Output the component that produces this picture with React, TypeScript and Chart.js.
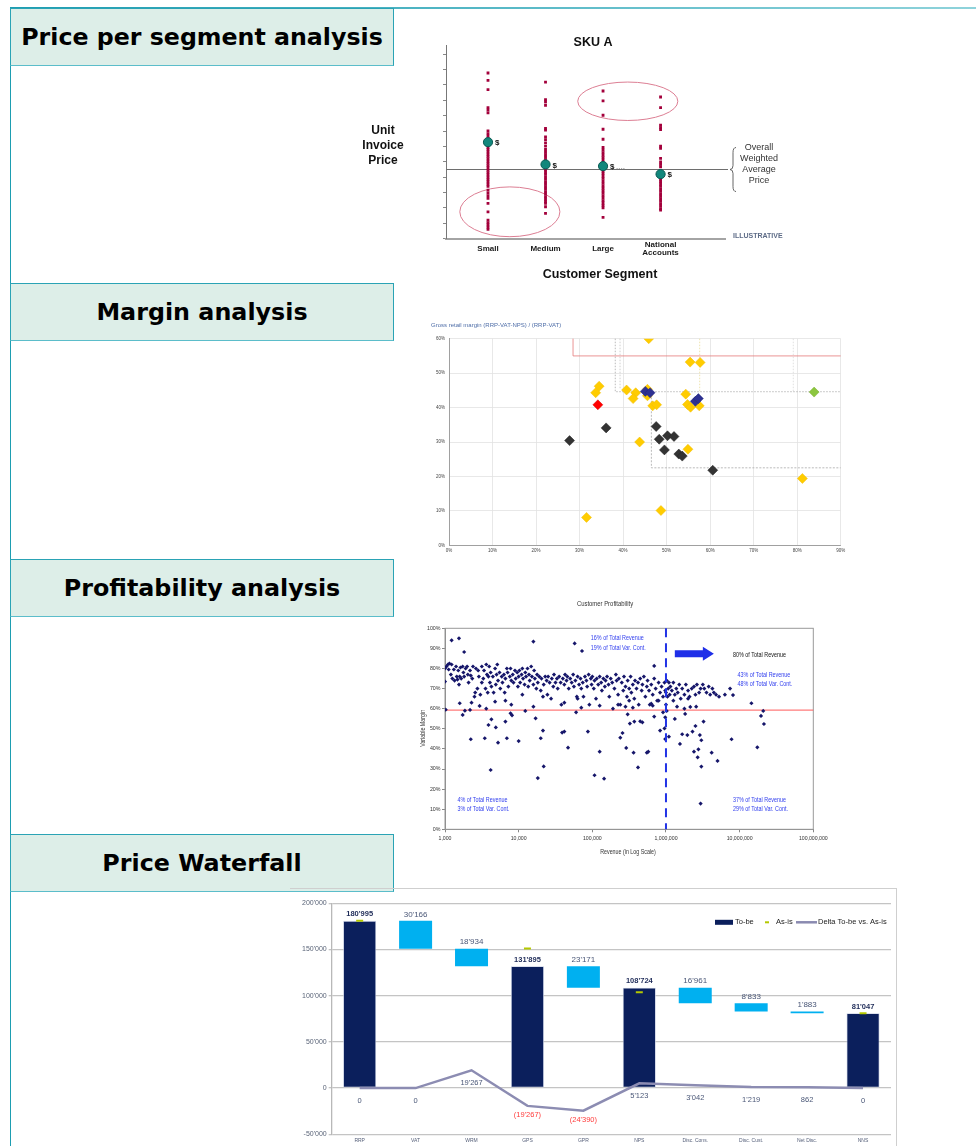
import React, { useEffect, useRef } from "react";
import { Chart, registerables } from "chart.js";

Chart.register(...registerables);

const ARIAL = '"Liberation Sans", Arial, sans-serif';
const HEADING_FONT = '"DejaVu Sans", Verdana, sans-serif';

// ---------------- Headings ----------------
const HEADINGS = ["Price per segment analysis", "Margin analysis", "Profitability analysis", "Price Waterfall"];
const HEADING_TOPS = [8, 283, 559, 834];

// ---------------- Chart 1: SKU A ----------------
const SKU_TITLE = "SKU A";
const SEGMENT_LABELS: (string | string[])[] = ["Small", "Medium", "Large", ["National", "Accounts"]];
const SMALL_PRICES = [10.78, 10.3, 9.7, 8.53, 8.36, 8.18, 7.01, 6.84, 6.67, 6.49, 6.1, 5.95, 5.8, 5.65, 5.5, 5.35, 5.2, 5.05, 4.9, 4.75, 4.6, 4.45, 4.3, 4.15, 4.0, 3.85, 3.7, 3.55, 3.4, 3.16, 2.98, 2.8, 2.62, 2.3, 1.75, 1.21, 1.05, 0.9, 0.75, 0.61];
const MEDIUM_PRICES = [10.19, 9.05, 8.9, 8.68, 7.17, 7.06, 6.62, 6.45, 6.23, 6.02, 5.8, 5.62, 5.46, 5.3, 5.14, 4.98, 4.66, 4.5, 4.34, 4.18, 4.02, 3.86, 3.7, 3.54, 3.38, 3.22, 3.06, 2.9, 2.74, 2.58, 2.42, 2.3, 2.08, 1.65];
const LARGE_PRICES = [9.61, 8.96, 8.03, 7.12, 6.47, 5.93, 5.76, 5.6, 5.43, 5.27, 5.11, 4.95, 4.56, 4.4, 4.24, 4.08, 3.92, 3.76, 3.6, 3.44, 3.28, 3.12, 2.96, 2.8, 2.64, 2.48, 2.32, 2.16, 2.0, 1.39];
const NATIONAL_PRICES = [9.22, 8.53, 7.38, 7.23, 7.1, 6.02, 5.87, 5.22, 5.0, 4.84, 4.68, 4.36, 4.04, 3.88, 3.72, 3.56, 3.4, 3.24, 3.08, 2.92, 2.76, 2.6, 2.44, 2.28, 2.12, 1.96, 1.86];
const SEGMENT_AVERAGES = [6.28, 4.83, 4.72, 4.2];
const OVERALL_AVERAGE = 4.5;
const PRICE_TICKS = [0, 1, 2, 3, 4, 5, 6, 7, 8, 9, 10, 11, 12];
// highlight ellipses: [centre segment, centre price, radius segment, radius price]
const HIGHLIGHTS = [
  [1.38, 1.75, 0.87, 1.62],
  [3.43, 8.94, 0.87, 1.25],
];
const AVG_NOTE = ["Overall", "Weighted", "Average", "Price"];
const Y_NOTE = ["Unit", "Invoice", "Price"];
const X_NOTE = "Customer Segment";
const ILLUSTRATIVE = "ILLUSTRATIVE";

// ---------------- Chart 2: Margin analysis ----------------
const MARGIN_TITLE = "Gross retail margin (RRP-VAT-NPS) / (RRP-VAT)";
const MARGIN_X_TICKS = [0, 10, 20, 30, 40, 50, 60, 70, 80, 90];
const MARGIN_Y_TICKS = [0, 10, 20, 30, 40, 50, 60];
const YELLOW_POINTS = [[45.9, 60.0], [55.4, 53.2], [57.7, 53.1], [34.5, 46.2], [33.7, 44.3], [40.8, 45.1], [42.9, 44.3], [42.3, 42.6], [45.6, 45.3], [45.6, 43.4], [54.4, 43.9], [46.8, 40.5], [47.7, 40.8], [54.8, 40.9], [55.5, 40.1], [57.5, 40.5], [43.8, 30.0], [54.9, 27.9], [48.7, 10.1], [31.6, 8.1], [81.2, 19.4]];
const DARK_POINTS = [[27.7, 30.4], [36.1, 34.1], [47.6, 34.5], [48.3, 30.8], [50.2, 31.8], [51.7, 31.6], [49.5, 27.7], [52.8, 26.5], [53.6, 25.9], [60.6, 21.8]];
const NAVY_POINTS = [[45.1, 44.7], [46.2, 44.3], [56.6, 41.8], [57.3, 42.6]];
const RED_POINTS = [[34.2, 40.8]];
const GREEN_POINTS = [[83.9, 44.5]];
const MARGIN_GUIDES = [
  { xs: [28.5, 28.5, 90], ys: [60, 55, 55], color: "#e47a7a", dash: [] as number[] },
  { xs: [38.2, 38.2, 90], ys: [60, 44.6, 44.6], color: "#a8a8a8", dash: [1.5, 1.5] },
  { xs: [39.3, 39.3], ys: [60, 45.5], color: "#c4c4c4", dash: [1.5, 1.5] },
  { xs: [57.6, 57.6], ys: [60, 44.6], color: "#e8dc9a", dash: [1.5, 1.5] },
  { xs: [79.1, 79.1], ys: [60, 44.6], color: "#d8d8d8", dash: [1.5, 1.5] },
  { xs: [46.5, 46.5, 90], ys: [44, 22.5, 22.5], color: "#a8a8a8", dash: [2, 1.5] },
];

// ---------------- Chart 3: Customer profitability ----------------
const PROFIT_TITLE = "Customer Profitability";
const PROFIT_X_TITLE = "Revenue (in Log Scale)";
const PROFIT_Y_TITLE = "Variable Margin";
const REVENUE_TICKS = [1000, 10000, 100000, 1000000, 10000000, 100000000];
const MARGIN_PCT_TICKS = [0, 10, 20, 30, 40, 50, 60, 70, 80, 90, 100];
const MARGIN_THRESHOLD = 59.3;
const REVENUE_THRESHOLD = 1000000;
// [log10(revenue), variable margin %]
const PROFIT_POINTS = [
  [3.09, 94.0], [3.19, 95.0], [3.26, 88.2], [4.2, 93.4], [4.76, 92.5], [4.86, 88.7], [5.84, 81.3],
  [3.0, 80], [3.0, 73.5], [3.02, 81], [3.04, 82], [3.05, 79.5], [3.06, 82.5], [3.08, 77], [3.09, 82], [3.1, 75], [3.12, 79.5], [3.13, 74], [3.15, 81], [3.16, 76], [3.17, 74.5], [3.18, 79], [3.19, 72], [3.2, 76], [3.21, 80.5], [3.22, 75], [3.24, 81], [3.25, 78], [3.26, 76], [3.28, 80], [3.3, 81], [3.31, 77], [3.32, 73], [3.34, 79], [3.35, 76.5], [3.37, 75], [3.38, 81], [3.4, 66], [3.41, 68], [3.42, 80], [3.44, 70], [3.45, 79], [3.46, 76], [3.48, 67], [3.5, 81], [3.5, 73],
  [3.52, 75], [3.53, 79], [3.55, 70], [3.56, 82], [3.57, 77], [3.58, 68], [3.59, 76], [3.6, 81], [3.61, 73], [3.62, 78], [3.63, 71], [3.65, 76], [3.66, 68], [3.68, 80], [3.69, 72], [3.7, 77], [3.71, 82], [3.72, 74], [3.74, 78], [3.75, 70], [3.77, 76], [3.78, 73], [3.8, 77], [3.81, 68], [3.82, 75], [3.84, 80], [3.85, 78], [3.86, 71], [3.88, 76], [3.89, 80], [3.9, 74], [3.92, 77], [3.93, 73], [3.95, 79], [3.96, 75], [3.98, 78], [3.99, 71],
  [4.0, 76], [4.01, 79], [4.02, 73], [4.04, 77], [4.05, 80], [4.06, 75], [4.08, 72], [4.09, 78], [4.1, 76], [4.12, 80], [4.13, 71], [4.14, 77], [4.15, 74], [4.17, 81], [4.18, 76], [4.2, 72], [4.21, 79], [4.22, 75], [4.24, 70], [4.25, 77], [4.26, 73], [4.28, 76], [4.3, 69], [4.31, 75], [4.33, 66], [4.34, 72], [4.36, 76], [4.38, 74], [4.39, 67], [4.4, 76], [4.42, 73], [4.44, 65], [4.45, 75], [4.47, 71], [4.48, 77], [4.5, 73],
  [4.52, 75], [4.53, 70], [4.55, 76], [4.57, 73], [4.58, 62], [4.6, 75], [4.62, 72], [4.63, 77], [4.65, 74], [4.66, 76], [4.68, 70], [4.7, 75], [4.72, 73], [4.74, 77], [4.75, 71], [4.77, 74], [4.79, 66], [4.8, 76], [4.82, 72], [4.84, 75], [4.85, 70], [4.87, 73], [4.88, 66], [4.9, 76], [4.92, 74], [4.93, 71], [4.95, 77], [4.96, 62], [4.98, 75], [4.99, 72],
  [5.0, 76], [5.02, 70], [5.03, 74], [5.05, 65], [5.06, 75], [5.08, 72], [5.1, 76], [5.12, 73], [5.13, 69], [5.15, 75], [5.17, 71], [5.18, 74], [5.2, 76], [5.22, 72], [5.23, 66], [5.25, 75], [5.27, 73], [5.28, 60], [5.3, 70], [5.32, 77], [5.33, 74], [5.35, 67], [5.36, 75], [5.38, 62], [5.4, 73], [5.42, 69], [5.43, 76], [5.45, 71], [5.47, 66], [5.48, 74], [5.5, 70],
  [5.52, 76], [5.53, 68], [5.55, 72], [5.57, 65], [5.58, 74], [5.6, 70], [5.62, 73], [5.63, 62], [5.65, 75], [5.67, 69], [5.68, 72], [5.7, 76], [5.72, 66], [5.74, 71], [5.75, 74], [5.77, 69], [5.78, 62], [5.8, 72], [5.82, 67], [5.84, 75], [5.86, 70], [5.88, 64], [5.9, 73], [5.92, 68], [5.94, 71], [5.96, 66], [5.98, 73], [5.99, 69],
  [6.0, 68], [6.01, 74], [6.02, 66], [6.03, 70], [6.04, 73], [6.05, 67], [6.06, 71], [6.08, 69], [6.1, 73], [6.12, 67], [6.14, 70], [6.16, 68], [6.18, 72], [6.2, 65], [6.22, 70], [6.25, 67], [6.27, 72], [6.3, 69], [6.32, 66], [6.35, 70], [6.38, 71], [6.4, 67], [6.42, 72], [6.45, 68], [6.47, 70], [6.5, 72],
  [6.52, 70], [6.55, 68], [6.58, 71], [6.6, 67], [6.63, 70], [6.65, 68], [6.68, 67], [6.72, 66], [6.8, 67], [6.87, 70], [6.91, 66.8],
  [3.36, 63], [3.56, 60], [3.68, 63.5], [3.82, 64], [3.9, 62], [4.05, 67], [4.2, 61], [4.62, 63], [4.8, 65], [4.85, 60.5], [5.1, 61.5], [5.35, 62], [5.45, 61], [5.5, 64], [5.55, 60.5], [5.8, 62.5], [5.9, 64], [6.0, 62], [6.1, 64], [6.15, 61], [6.25, 60], [6.3, 65],
  [3.01, 59.5], [3.2, 62.7], [3.24, 56.9], [3.27, 59.0], [3.35, 44.8], [3.34, 59.4], [3.47, 61.4], [3.54, 45.3], [3.59, 51.9], [3.62, 29.5], [3.63, 54.7], [3.69, 50.7], [3.72, 43.1], [3.82, 53.6], [3.84, 45.3], [3.89, 57.7], [3.91, 56.7], [4.0, 43.9], [4.09, 58.9], [4.23, 55.2], [4.26, 25.5], [4.3, 45.3], [4.33, 49.1], [4.34, 31.3], [4.59, 48.1], [4.62, 48.6], [4.67, 40.6], [4.78, 58.2], [4.94, 48.6], [5.03, 26.9], [5.1, 38.6], [5.16, 25.2], [5.38, 45.6], [5.41, 47.9], [5.46, 40.5], [5.48, 57.2], [5.51, 52.6], [5.56, 38.1], [5.57, 53.6], [5.62, 30.8], [5.65, 53.7], [5.68, 53.2], [5.74, 38.1], [5.76, 38.6], [5.82, 61.5], [5.84, 56.1], [5.92, 49.1], [5.96, 58.2], [5.98, 50.2], [5.99, 55.7], [5.99, 44.9], [6.01, 58.9], [6.04, 46.1], [6.12, 54.9], [6.19, 42.5], [6.22, 47.3], [6.26, 57.4], [6.29, 46.9], [6.33, 60.9], [6.36, 48.6], [6.38, 38.6], [6.4, 51.4], [6.41, 61.0], [6.44, 39.8], [6.46, 46.9], [6.47, 12.8], [6.48, 31.2], [6.48, 44.3], [6.43, 35.8], [6.51, 53.6], [6.62, 38.1], [6.7, 34.0], [6.89, 44.8], [7.24, 40.8], [7.16, 62.7], [7.29, 56.4], [7.32, 58.9], [7.33, 52.4],
];
// notes: [text lines, log10 revenue of left edge, margin % per line, colour]
const PROFIT_NOTES: [string[], number, number[], string][] = [
  [["16% of Total Revenue", "19% of Total Var. Cont."], 4.98, [95.0, 90.3], "#3340ee"],
  [["80% of Total Revenue"], 6.91, [86.4], "#111111"],
  [["43% of Total Revenue", "48% of Total Var. Cont."], 6.97, [76.8, 72.1], "#3340ee"],
  [["4% of Total Revenue", "3% of Total Var. Cont."], 3.17, [14.6, 10.1], "#3340ee"],
  [["37% of Total Revenue", "29% of Total Var. Cont."], 6.91, [14.6, 10.1], "#3340ee"],
];
const ARROW = { fromLog: 6.12, toLog: 6.65, margin: 87.4 };

// ---------------- Chart 4: Price waterfall ----------------
const WF_CATEGORIES = ["RRP", "VAT", "WRM", "GPS", "GPR", "NPS", "Disc. Cons.", "Disc. Cust.", "Net Disc.", "NNS"];
const WF_TOTALS = [180995, null, null, 131895, null, 108724, null, null, null, 81047];
const WF_STEPS = [null, 30166, 18934, null, 23171, null, 16961, 8833, 1883, null];
const WF_AS_IS = [180995, null, null, 151162, null, 103601, null, null, null, 81047];
const WF_DELTA = [0, 0, 19267, -19267, -24390, 5123, 3042, 1219, 862, 0];
const WF_Y_TICKS = [-50000, 0, 50000, 100000, 150000, 200000];
const WF_LEGEND = ["To-be", "As-is", "Delta To-be vs. As-is"];

const fmtApos = (v: number) => Math.round(Math.abs(v)).toString().replace(/\B(?=(\d{3})+(?!\d))/g, "'");

function buildWaterfallRanges() {
  const ranges: ([number, number] | null)[] = [];
  let level = 0;
  WF_CATEGORIES.forEach((_, i) => {
    const t = WF_TOTALS[i];
    const s = WF_STEPS[i];
    if (t != null) {
      level = t;
      ranges.push(null);
    } else if (s != null) {
      ranges.push([level - s, level]);
      level = level - s;
    } else ranges.push(null);
  });
  return ranges;
}

// condensed text (Arial Narrow look) drawn as real text, squeezed horizontally
function narrowText(ctx: CanvasRenderingContext2D, text: string, x: number, y: number, sx = 0.82) {
  ctx.save();
  ctx.translate(x, y);
  ctx.scale(sx, 1);
  ctx.fillText(text, 0, 0);
  ctx.restore();
}

// ---------------- Generic canvas ----------------
function ChartCanvas({ left, top, width, height, make }: any) {
  const ref = useRef<HTMLCanvasElement | null>(null);
  useEffect(() => {
    const chart = new Chart(ref.current as HTMLCanvasElement, make());
    return () => chart.destroy();
  }, []);
  return <canvas ref={ref} width={width} height={height} style={{ position: "absolute", left, top, width, height }} />;
}

// ---------------- Chart configs ----------------
function makeSkuConfig(): any {
  const decor = {
    id: "skuDecor",
    beforeDatasetsDraw(chart: any) {
      const { ctx, chartArea: ca, scales } = chart;
      const x = scales.x, y = scales.y;
      ctx.save();
      const ya = y.getPixelForValue(OVERALL_AVERAGE);
      ctx.strokeStyle = "#6e6e6e";
      ctx.lineWidth = 1.2;
      ctx.beginPath();
      ctx.moveTo(ca.left, ya);
      ctx.lineTo(ca.right + 3, ya);
      ctx.stroke();
      const bx = ca.right + 5, h = 22;
      ctx.lineWidth = 0.9;
      ctx.strokeStyle = "#555";
      ctx.beginPath();
      ctx.moveTo(bx + 6, ya - h);
      ctx.quadraticCurveTo(bx + 3, ya - h, bx + 3, ya - h + 5);
      ctx.lineTo(bx + 3, ya - 4);
      ctx.quadraticCurveTo(bx + 3, ya, bx, ya);
      ctx.quadraticCurveTo(bx + 3, ya, bx + 3, ya + 4);
      ctx.lineTo(bx + 3, ya + h - 5);
      ctx.quadraticCurveTo(bx + 3, ya + h, bx + 6, ya + h);
      ctx.stroke();
      ctx.strokeStyle = "#dc7e93";
      ctx.lineWidth = 1;
      HIGHLIGHTS.forEach(([cx, cy, rx, ry]) => {
        const px = x.getPixelForValue(cx), py = y.getPixelForValue(cy);
        const prx = Math.abs(x.getPixelForValue(cx + rx) - px);
        const pry = Math.abs(y.getPixelForValue(cy + ry) - py);
        ctx.beginPath();
        ctx.ellipse(px, py, prx, pry, 0, 0, Math.PI * 2);
        ctx.stroke();
      });
      ctx.restore();
    },
    afterDatasetsDraw(chart: any) {
      const { ctx, chartArea: ca, scales } = chart;
      const x = scales.x, y = scales.y;
      ctx.save();
      ctx.textBaseline = "middle";
      ctx.font = `bold 8px ${ARIAL}`;
      ctx.fillStyle = "#111";
      ctx.textAlign = "left";
      SEGMENT_AVERAGES.forEach((v, i) => {
        const px = x.getPixelForValue(i + 1), py = y.getPixelForValue(v);
        ctx.fillText("$", px + 7, py + 1);
        if (i === 2) {
          ctx.fillStyle = "#a8a8a8";
          ctx.fillText("....", px + 13, py + 1);
          ctx.fillStyle = "#111";
        }
      });
      ctx.textAlign = "center";
      ctx.font = `bold 12.5px ${ARIAL}`;
      ctx.fillText(SKU_TITLE, ca.left + 147, ca.top - 2);
      ctx.font = `bold 12px ${ARIAL}`;
      Y_NOTE.forEach((t, i) => ctx.fillText(t, ca.left - 63, ca.top + 86 + i * 15));
      ctx.font = `bold 12.5px ${ARIAL}`;
      ctx.fillText(X_NOTE, ca.left + 154, ca.bottom + 35.5);
      const ya = y.getPixelForValue(OVERALL_AVERAGE);
      ctx.font = `9px ${ARIAL}`;
      ctx.fillStyle = "#333";
      AVG_NOTE.forEach((t, i) => ctx.fillText(t, ca.right + 34, ya - 21.6 + i * 11));
      ctx.font = `bold 7px ${ARIAL}`;
      ctx.fillStyle = "#5d6b86";
      ctx.textAlign = "left";
      ctx.fillText(ILLUSTRATIVE, ca.right + 8, ca.bottom - 2.5);
      ctx.restore();
    },
  };
  return {
    type: "scatter",
    data: {
      datasets: [
        {
          data: SEGMENT_AVERAGES.map((v, i) => ({ x: i + 1, y: v })),
          pointStyle: "circle",
          pointRadius: 4.6,
          backgroundColor: "#12877c",
          borderColor: "#0a5a53",
          borderWidth: 1,
        },
        {
          data: [SMALL_PRICES, MEDIUM_PRICES, LARGE_PRICES, NATIONAL_PRICES].flatMap((arr, i) =>
            arr.map((v) => ({ x: i + 1, y: v }))
          ),
          pointStyle: "rect",
          pointRadius: 2,
          backgroundColor: "#a3003b",
          borderWidth: 0,
        },
      ],
    },
    options: {
      animation: false,
      responsive: false,
      events: [],
      layout: { padding: { top: 20, right: 75, left: 0, bottom: 0 } },
      plugins: { legend: { display: false }, tooltip: { enabled: false } },
      scales: {
        x: {
          type: "linear",
          min: 0.27,
          max: 5.12,
          afterBuildTicks: (s: any) => {
            s.ticks = SEGMENT_LABELS.map((_, i) => ({ value: i + 1 }));
          },
          afterFit: (s: any) => {
            s.height = 51.3;
          },
          grid: { display: false, drawTicks: false },
          border: { color: "#a4a4a4", width: 2 },
          ticks: {
            autoSkip: false,
            maxRotation: 0,
            padding: 6,
            crossAlign: "center",
            color: "#1a1a1a",
            font: { family: ARIAL, size: 8, weight: "bold", lineHeight: 0.95 },
            callback: (v: number) => SEGMENT_LABELS[Math.round(v) - 1],
          },
        },
        y: {
          min: 0,
          max: 12.6,
          afterBuildTicks: (s: any) => {
            s.ticks = PRICE_TICKS.map((v) => ({ value: v }));
          },
          afterFit: (s: any) => {
            s.width = 116;
          },
          ticks: { display: false },
          grid: { drawOnChartArea: false, drawTicks: true, tickLength: 3, color: "#888" },
          border: { color: "#777", width: 1 },
        },
      },
    },
    plugins: [decor],
  };
}

function makeMarginConfig(): any {
  const decor = {
    id: "marginDecor",
    beforeDatasetsDraw(chart: any) {
      const { ctx, scales } = chart;
      const x = scales.x, y = scales.y;
      ctx.save();
      ctx.lineWidth = 0.8;
      MARGIN_GUIDES.forEach((g) => {
        ctx.strokeStyle = g.color;
        ctx.setLineDash(g.dash);
        ctx.beginPath();
        g.xs.forEach((xv, i) => {
          const px = x.getPixelForValue(xv), py = y.getPixelForValue(g.ys[i]);
          if (i === 0) ctx.moveTo(px, py);
          else ctx.lineTo(px, py);
        });
        ctx.stroke();
      });
      ctx.restore();
    },
    afterDraw(chart: any) {
      const { ctx } = chart;
      ctx.save();
      ctx.font = `6px ${ARIAL}`;
      ctx.fillStyle = "#4f6ea8";
      ctx.textAlign = "left";
      ctx.textBaseline = "middle";
      ctx.fillText(MARGIN_TITLE, 11, 7);
      ctx.restore();
    },
  };
  const ds = (pts: number[][], color: string, border: string) => ({
    data: pts.map(([a, b]) => ({ x: a, y: b })),
    pointStyle: "rectRot",
    pointRadius: 5,
    backgroundColor: color,
    borderColor: border,
    borderWidth: 0.5,
  });
  return {
    type: "scatter",
    data: {
      datasets: [
        ds(GREEN_POINTS, "#8cc63f", "#7ab030"),
        ds(NAVY_POINTS, "#2e3192", "#23267a"),
        ds(RED_POINTS, "#ff0000", "#e00000"),
        ds(DARK_POINTS, "#333333", "#222"),
        ds(YELLOW_POINTS, "#ffcc00", "#f0bd00"),
      ],
    },
    options: {
      animation: false,
      responsive: false,
      events: [],
      layout: { padding: { top: 20.7, right: 9.3, left: 0, bottom: 0 } },
      plugins: { legend: { display: false }, tooltip: { enabled: false } },
      scales: {
        x: {
          type: "linear",
          min: 0,
          max: 90,
          afterBuildTicks: (s: any) => {
            s.ticks = MARGIN_X_TICKS.map((v) => ({ value: v }));
          },
          afterFit: (s: any) => {
            s.height = 12.7;
          },
          grid: { color: "#e2e2e2", lineWidth: 0.8, drawTicks: false },
          border: { color: "#a0a0a0", width: 1 },
          ticks: { padding: 3, color: "#444", font: { family: ARIAL, size: 4.5 }, callback: (v: number) => v + "%" },
        },
        y: {
          min: 0,
          max: 60,
          afterBuildTicks: (s: any) => {
            s.ticks = MARGIN_Y_TICKS.map((v) => ({ value: v }));
          },
          afterFit: (s: any) => {
            s.width = 29;
          },
          grid: { color: "#e2e2e2", lineWidth: 0.8, drawTicks: false },
          border: { color: "#a0a0a0", width: 1 },
          ticks: { padding: 4, color: "#444", font: { family: ARIAL, size: 4.5 }, callback: (v: number) => v + "%" },
        },
      },
    },
    plugins: [decor],
  };
}

function makeProfitConfig(): any {
  const decor = {
    id: "profitDecor",
    beforeDatasetsDraw(chart: any) {
      const { ctx, chartArea: ca, scales } = chart;
      const y = scales.y;
      ctx.save();
      ctx.strokeStyle = "#999";
      ctx.lineWidth = 1;
      ctx.strokeRect(ca.left, ca.top, ca.right - ca.left, ca.bottom - ca.top);
      const yt = y.getPixelForValue(MARGIN_THRESHOLD);
      ctx.strokeStyle = "#ff5a5a";
      ctx.beginPath();
      ctx.moveTo(ca.left, yt);
      ctx.lineTo(ca.right, yt);
      ctx.stroke();
      ctx.restore();
    },
    afterDatasetsDraw(chart: any) {
      const { ctx, chartArea: ca, scales } = chart;
      const x = scales.x, y = scales.y;
      ctx.save();
      const xv = x.getPixelForValue(REVENUE_THRESHOLD);
      ctx.strokeStyle = "#2233e6";
      ctx.lineWidth = 2;
      ctx.setLineDash([9, 6]);
      ctx.beginPath();
      ctx.moveTo(xv, ca.top);
      ctx.lineTo(xv, ca.bottom);
      ctx.stroke();
      ctx.setLineDash([]);
      const ax0 = x.getPixelForValue(Math.pow(10, ARROW.fromLog));
      const ax1 = x.getPixelForValue(Math.pow(10, ARROW.toLog));
      const ay = y.getPixelForValue(ARROW.margin);
      ctx.fillStyle = "#1f2fe8";
      ctx.beginPath();
      ctx.moveTo(ax0, ay - 3.5);
      ctx.lineTo(ax1 - 11, ay - 3.5);
      ctx.lineTo(ax1 - 11, ay - 7);
      ctx.lineTo(ax1, ay);
      ctx.lineTo(ax1 - 11, ay + 7);
      ctx.lineTo(ax1 - 11, ay + 3.5);
      ctx.lineTo(ax0, ay + 3.5);
      ctx.closePath();
      ctx.fill();
      ctx.textAlign = "left";
      ctx.textBaseline = "middle";
      ctx.font = `6.6px ${ARIAL}`;
      PROFIT_NOTES.forEach(([lines, lx, ys, color]) => {
        ctx.fillStyle = color;
        lines.forEach((t, i) => narrowText(ctx, t, x.getPixelForValue(Math.pow(10, lx)), y.getPixelForValue(ys[i])));
      });
      ctx.fillStyle = "#333";
      ctx.textAlign = "center";
      ctx.font = `7.4px ${ARIAL}`;
      narrowText(ctx, PROFIT_TITLE, ca.left + 160, ca.top - 24, 0.8);
      ctx.font = `6.5px ${ARIAL}`;
      narrowText(ctx, PROFIT_X_TITLE, ca.left + 183, ca.bottom + 23);
      ctx.translate(ca.left - 22, ca.top + 100);
      ctx.rotate(-Math.PI / 2);
      narrowText(ctx, PROFIT_Y_TITLE, 0, 0);
      ctx.restore();
    },
  };
  return {
    type: "scatter",
    data: {
      datasets: [
        {
          data: PROFIT_POINTS.map(([lr, m]) => ({ x: Math.pow(10, lr), y: m })),
          pointStyle: "rectRot",
          pointRadius: 2.1,
          backgroundColor: "#16166a",
          borderWidth: 0,
        },
      ],
    },
    options: {
      animation: false,
      responsive: false,
      events: [],
      layout: { padding: { top: 33.3, right: 21.7, left: 0, bottom: 0 } },
      plugins: { legend: { display: false }, tooltip: { enabled: false } },
      scales: {
        x: {
          type: "logarithmic",
          min: 1000,
          max: 100000000,
          afterBuildTicks: (s: any) => {
            s.ticks = REVENUE_TICKS.map((v) => ({ value: v }));
          },
          afterFit: (s: any) => {
            s.height = 30.7;
          },
          grid: { drawOnChartArea: false, drawTicks: true, tickLength: 3, color: "#888" },
          border: { color: "#888" },
          ticks: {
            autoSkip: false,
            maxRotation: 0,
            padding: 3,
            color: "#333",
            font: { family: ARIAL, size: 5.2 },
            callback: (v: number) => Number(v).toLocaleString("en-US"),
          },
        },
        y: {
          min: 0,
          max: 100,
          afterBuildTicks: (s: any) => {
            s.ticks = MARGIN_PCT_TICKS.map((v) => ({ value: v }));
          },
          afterFit: (s: any) => {
            s.width = 40;
          },
          grid: { drawOnChartArea: false, drawTicks: true, tickLength: 3, color: "#888" },
          border: { color: "#888" },
          ticks: { padding: 1.5, color: "#333", font: { family: ARIAL, size: 5.3 }, callback: (v: number) => v + "%" },
        },
      },
    },
    plugins: [decor],
  };
}

function makeWaterfallConfig(): any {
  const ranges = buildWaterfallRanges();
  const decor = {
    id: "wfDecor",
    afterDatasetsDraw(chart: any) {
      const { ctx, chartArea: ca, scales } = chart;
      const x = scales.x, y = scales.y;
      ctx.save();
      ctx.textAlign = "center";
      ctx.textBaseline = "middle";
      WF_CATEGORIES.forEach((_, i) => {
        const cx = x.getPixelForValue(i);
        const t = WF_TOTALS[i];
        const r = ranges[i];
        if (t != null) {
          ctx.font = `bold 7.5px ${ARIAL}`;
          ctx.fillStyle = "#1e2b58";
          ctx.fillText(fmtApos(t), cx, y.getPixelForValue(t) - 6.5);
        } else if (r) {
          ctx.font = `8px ${ARIAL}`;
          ctx.fillStyle = "#4a5777";
          ctx.fillText(fmtApos(WF_STEPS[i] as number), cx, y.getPixelForValue(r[1]) - 6.5);
        }
        const d = WF_DELTA[i];
        const dy = y.getPixelForValue(d);
        ctx.font = `7.5px ${ARIAL}`;
        ctx.fillStyle = d < 0 ? "#ff3b3b" : "#4a5777";
        ctx.fillText(d < 0 ? `(${fmtApos(d)})` : fmtApos(d), cx, dy + (d < 0 ? 9.5 : 13));
      });
      const lx = ca.right, ly = ca.top + 19;
      ctx.fillStyle = "#0b1f5c";
      ctx.fillRect(lx - 176, ly - 2.5, 18, 5);
      ctx.font = `7.5px ${ARIAL}`;
      ctx.fillStyle = "#222";
      ctx.textAlign = "left";
      ctx.fillText(WF_LEGEND[0], lx - 156, ly);
      ctx.strokeStyle = "#b4c800";
      ctx.lineWidth = 2;
      ctx.beginPath();
      ctx.moveTo(lx - 126, ly);
      ctx.lineTo(lx - 122, ly);
      ctx.stroke();
      ctx.fillText(WF_LEGEND[1], lx - 115, ly);
      ctx.strokeStyle = "#8a8ab0";
      ctx.lineWidth = 2.5;
      ctx.beginPath();
      ctx.moveTo(lx - 95, ly);
      ctx.lineTo(lx - 74, ly);
      ctx.stroke();
      ctx.fillText(WF_LEGEND[2], lx - 73, ly);
      ctx.restore();
    },
  };
  return {
    type: "bar",
    data: {
      labels: WF_CATEGORIES,
      datasets: [
        {
          type: "line",
          data: WF_DELTA,
          borderColor: "#8c8cb2",
          borderWidth: 2.5,
          pointRadius: 0,
          tension: 0,
          order: 0,
        },
        {
          type: "line",
          data: WF_AS_IS,
          showLine: false,
          pointStyle: "line",
          pointRadius: 3.5,
          borderColor: "#b4c800",
          pointBorderWidth: 2,
          order: 1,
        },
        {
          data: WF_TOTALS.map((t) => (t == null ? null : [0, t])),
          backgroundColor: "#0b1f5c",
          borderColor: "#c3cbe0",
          borderWidth: 0.8,
          borderSkipped: false,
          order: 2,
        },
        {
          data: ranges,
          backgroundColor: "#00b0f0",
          borderWidth: 0,
          order: 3,
        },
      ],
    },
    options: {
      animation: false,
      responsive: false,
      events: [],
      layout: { padding: { top: 15.3, right: 0, left: 0, bottom: 0 } },
      plugins: { legend: { display: false }, tooltip: { enabled: false } },
      datasets: { bar: { grouped: false, categoryPercentage: 1, barPercentage: 0.59 } },
      scales: {
        x: {
          afterFit: (s: any) => {
            s.height = 11.7;
          },
          grid: { display: false, drawTicks: false },
          border: { display: false },
          ticks: { autoSkip: false, maxRotation: 0, padding: 3, color: "#56607a", font: { family: ARIAL, size: 5 } },
        },
        y: {
          min: -50000,
          max: 200000,
          afterBuildTicks: (s: any) => {
            s.ticks = WF_Y_TICKS.map((v) => ({ value: v }));
          },
          afterFit: (s: any) => {
            s.width = 41.7;
          },
          grid: { color: "#c4c4c4", lineWidth: 1.3, tickLength: 3 },
          border: { color: "#b8b8b8", width: 1.3 },
          ticks: {
            padding: 2,
            color: "#5a6478",
            font: { family: ARIAL, size: 7 },
            callback: (v: number) => (v < 0 ? "-" : "") + fmtApos(v),
          },
        },
      },
    },
    plugins: [decor],
  };
}

// ---------------- App ----------------
export default function App() {
  return (
    <div style={{ position: "absolute", left: 0, top: 0, width: 976, height: 1146, overflow: "hidden", background: "#ffffff" }}>
      <div style={{ position: "absolute", left: 10, top: 7, width: 966, height: 1.5, background: "linear-gradient(90deg,#1d9db1,#8fd3db)" }} />
      <div style={{ position: "absolute", left: 10, top: 7, width: 1.3, height: 1139, background: "#1d9db1" }} />
      {HEADINGS.map((h, i) => (
        <div
          key={h}
          style={{
            position: "absolute",
            left: 10,
            top: HEADING_TOPS[i],
            width: 384,
            height: 58,
            boxSizing: "border-box",
            background: "#ddeee8",
            border: "1px solid #2aa3b5",
            borderBottom: "1.5px solid #5bbdca",
            display: "flex",
            alignItems: "center",
            justifyContent: "center",
            fontFamily: HEADING_FONT,
            fontWeight: "bold",
            fontSize: i === 0 ? 23.7 : 23.8,
            color: "#000",
            whiteSpace: "nowrap",
            letterSpacing: 0,
          }}
        >
          {h}
        </div>
      ))}
      <ChartCanvas left={330} top={25} width={470} height={265} make={makeSkuConfig} />
      <ChartCanvas left={420} top={318} width={430} height={240} make={makeMarginConfig} />
      <ChartCanvas left={405} top={595} width={430} height={265} make={makeProfitConfig} />
      <div style={{ position: "absolute", left: 290, top: 888, width: 606, height: 258, borderTop: "1px solid #cfcfcf", borderRight: "1px solid #cfcfcf" }} />
      <ChartCanvas left={290} top={888} width={607} height={258} make={makeWaterfallConfig} />
    </div>
  );
}
